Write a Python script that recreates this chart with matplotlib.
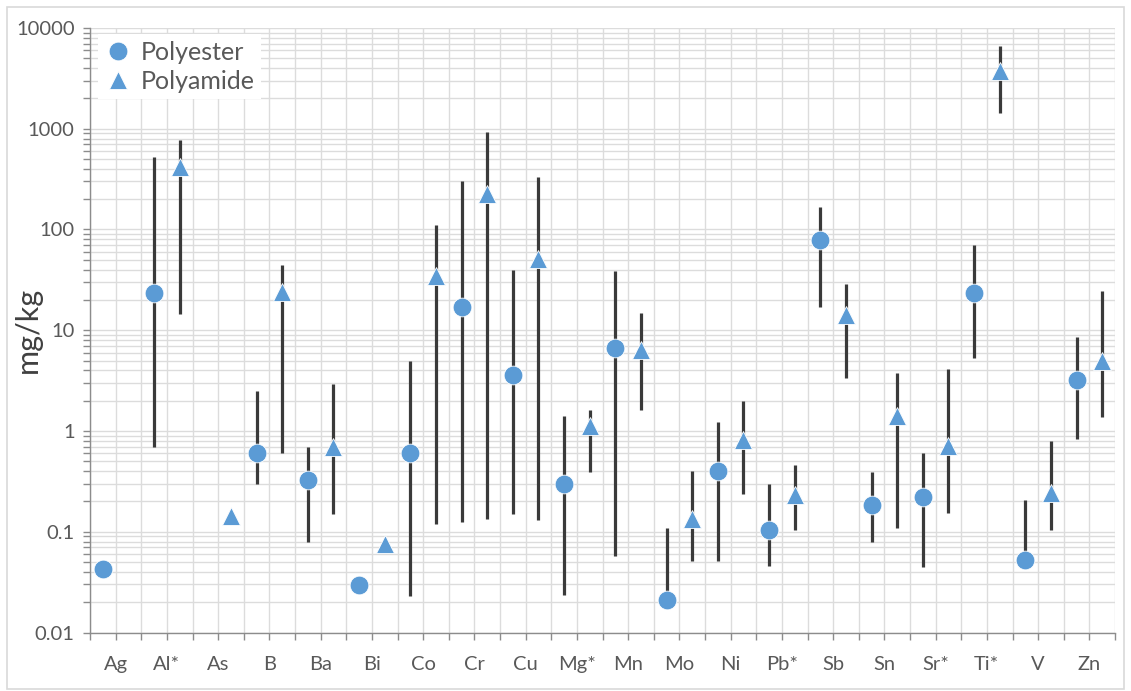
import numpy as np
import matplotlib
matplotlib.use('Agg')
from matplotlib import pyplot as plt
from matplotlib.patches import Rectangle
from matplotlib import ticker

nan = np.nan

categories = ['Ag', 'Al*', 'As', 'B', 'Ba', 'Bi', 'Co', 'Cr', 'Cu', 'Mg*',
              'Mn', 'Mo', 'Ni', 'Pb*', 'Sb', 'Sn', 'Sr*', 'Ti*', 'V', 'Zn']

# polyester: median with min / max range
polyester = [0.043, 23.5, nan, 0.60, 0.33, 0.0296, 0.60, 17, 3.6, 0.30,
             6.7, 0.021, 0.40, 0.104, 78, 0.185, 0.22, 23.5, 0.052, 3.2]
polyester_lo = [nan, 0.69, nan, 0.30, 0.079, nan, 0.023, 0.126, 0.15, 0.0236,
                0.0575, 0.021, 0.051, 0.046, 17, 0.080, 0.0445, 5.3, 0.052, 0.84]
polyester_hi = [nan, 530, nan, 2.5, 0.70, nan, 5.0, 303, 39.5, 1.40,
                38.6, 0.110, 1.22, 0.30, 167, 0.388, 0.61, 69.5, 0.207, 8.5]

# polyamide: median with min / max range
polyamide = [nan, 414, 0.142, 23.7, 0.69, 0.076, 34.4, 225, 50.5, 1.11,
             6.4, 0.133, 0.81, 0.233, 14.3, 1.40, 0.715, 3760, 0.242, 4.9]
polyamide_lo = [nan, 14.6, nan, 0.60, 0.15, nan, 0.12, 0.134, 0.132, 0.39,
                1.63, 0.051, 0.238, 0.103, 3.37, 0.110, 0.155, 1425, 0.104, 1.38]
polyamide_hi = [nan, 774, nan, 44, 2.95, nan, 112, 938, 330, 1.63,
                14.9, 0.40, 2.0, 0.455, 28.9, 3.78, 4.13, 6650, 0.80, 24.4]

blue = '#5B9BD5'
bar_col = '#3a3a3a'
grid_col = '#dcdcdc'
text_col = '#595959'
font = ['Lato', 'DejaVu Sans']

n = len(categories)
x_pe = np.arange(n) * 2 + 0.5
x_pa = np.arange(n) * 2 + 1.5

fig = plt.figure(figsize=(11.31, 6.91), dpi=100)
ax = fig.add_axes([90 / 1131, 1 - 632.5 / 691, (1115 - 90) / 1131, (632.5 - 28) / 691])

ax.set_yscale('log')
ax.set_ylim(0.01, 10000)
ax.set_xlim(0, 2 * n)

# range bars
ax.vlines(x_pe, polyester_lo, polyester_hi, color=bar_col, lw=2.3, zorder=3)
ax.vlines(x_pa, polyamide_lo, polyamide_hi, color=bar_col, lw=2.3, zorder=3)

ax.plot(x_pe, polyester, 'o', color=blue, ms=13.5, mec='white', mew=0.6,
        ls='none', label='Polyester', zorder=4)
ax.plot(x_pa, polyamide, '^', color=blue, ms=13.5, mec='white', mew=0.6,
        ls='none', label='Polyamide', zorder=4)

# x: tick marks / grid at every slot, category names centred on each pair
ax.xaxis.remove_overlapping_locs = False
ax.xaxis.set_major_locator(ticker.FixedLocator(np.arange(0, 2 * n + 1)))
ax.xaxis.set_major_formatter(ticker.NullFormatter())
ax.xaxis.set_minor_locator(ticker.FixedLocator(np.arange(n) * 2 + 1))
ax.xaxis.set_minor_formatter(ticker.FixedFormatter(categories))

# y: decades + 2..9 minor
decades = 10.0 ** np.arange(-2, 5)
minors = [d * k for d in decades[:-1] for k in range(2, 10)]
ax.yaxis.set_major_locator(ticker.FixedLocator(decades))
ax.yaxis.set_major_formatter(ticker.FixedFormatter([f'{v:g}' for v in decades]))
ax.yaxis.set_minor_locator(ticker.FixedLocator(minors))
ax.yaxis.set_minor_formatter(ticker.NullFormatter())

ax.grid(True, which='major', axis='x', color=grid_col, lw=1.0, zorder=0)
ax.grid(True, which='both', axis='y', color=grid_col, lw=1.0, zorder=0)
ax.set_axisbelow(True)

for s in ['top', 'right']:
    ax.spines[s].set_visible(False)
for s in ['left', 'bottom']:
    ax.spines[s].set_color('#8c8c8c')
    ax.spines[s].set_linewidth(1.0)

ax.tick_params(axis='both', which='both', color='#8c8c8c', length=5, width=1,
               labelcolor=text_col, labelsize=14.5)
ax.tick_params(axis='x', which='minor', length=0, pad=17)
ax.tick_params(axis='y', pad=6)
for lab in ax.get_xticklabels(minor=True) + ax.get_yticklabels():
    lab.set_family(font)

ax.set_ylabel('mg/kg', fontsize=22, color='#404040', family=font)
ax.yaxis.set_label_coords(-48 / 1025, 0.5)

leg = ax.legend(loc='upper left', bbox_to_anchor=(-0.004, 1.01), frameon=True,
                fancybox=False, edgecolor='none', framealpha=1.0,
                prop={'family': font, 'size': 18}, handletextpad=0.35,
                borderpad=0.25, labelspacing=0.25, handlelength=1.1)
for t in leg.get_texts():
    t.set_color(text_col)

# chart border
fig.patches.append(Rectangle((7 / 1131, 2 / 691), 1 - 14 / 1131, 1 - 9 / 691,
                             transform=fig.transFigure, fill=False,
                             edgecolor='#d9d9d9', lw=1.2))

fig.savefig('out.png', dpi=100)
